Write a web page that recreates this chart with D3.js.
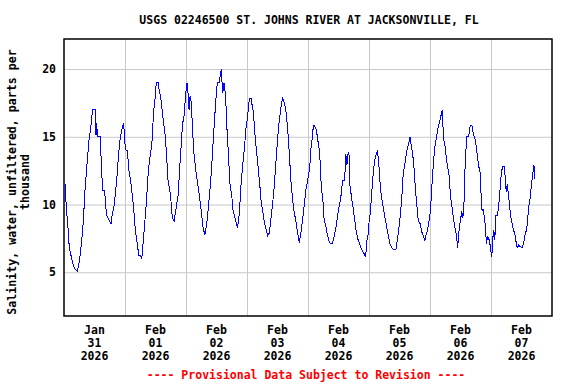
<!DOCTYPE html>
<html>
<head>
<meta charset="utf-8">
<script src="https://cdn.jsdelivr.net/npm/d3@7"></script>
<style>
  body { margin: 0; background: #fff; }
  text { font-family: "DejaVu Sans Mono", monospace; font-weight: bold; }
</style>
</head>
<body>
<div id="chart"></div>
<script>
// hours since 2026-01-31 00:00 and salinity (ppt)
var hours = [0.4,0.7,1.0,1.5,1.8,2.2,2.8,3.4,4.1,5.2,5.8,6.3,6.8,7.4,7.9,8.3,8.8,9.3,9.8,10.5,
  11.0,11.3,12.3,12.6,12.9,13.1,14.2,14.8,15.2,16.0,16.5,17.0,17.8,18.5,19.0,19.8,20.3,20.9,21.4,21.9,
  22.5,23.1,23.5,23.9,24.4,24.9,25.5,26.0,26.5,27.0,27.5,28.1,28.6,29.1,29.5,30.2,30.6,31.0,31.5,32.0,
  32.5,33.0,33.6,34.1,34.6,35.0,35.4,35.8,36.3,37.0,37.5,38.0,38.6,39.1,39.6,40.1,40.6,41.0,41.6,42.0,
  42.4,42.9,43.4,43.9,44.5,45.0,45.4,45.8,46.3,46.7,47.2,47.6,48.0,48.4,48.8,49.2,49.6,50.0,50.5,51.0,
  51.8,53.1,54.0,54.8,55.4,55.7,56.4,57.0,57.7,58.3,59.0,59.7,60.3,61.0,61.9,62.4,63.0,63.6,64.0,64.6,
  65.3,66.0,66.4,67.0,67.7,68.3,69.0,69.6,70.3,70.9,71.6,72.3,72.9,73.6,74.5,75.3,75.9,76.4,77.1,77.6,
  78.3,78.8,79.5,80.1,80.8,81.4,82.1,82.7,83.4,84.1,84.7,85.4,86.0,86.7,87.3,88.0,88.6,89.3,90.0,90.6,
  91.3,91.9,92.6,93.2,93.9,94.5,95.2,95.9,96.7,97.1,97.6,98.1,98.6,99.3,99.9,100.6,101.2,101.9,102.3,103.0,
  103.6,104.3,104.9,105.6,106.2,106.9,107.5,108.2,108.9,109.4,109.8,110.4,110.9,111.3,111.7,112.1,112.5,113.0,113.7,114.4,
  115.0,115.7,116.3,117.0,117.6,118.3,118.7,119.1,119.6,120.1,120.5,121.2,121.7,122.2,122.8,123.3,123.8,124.2,124.8,125.5,
  126.2,126.8,127.5,128.1,128.9,129.6,130.6,131.1,131.8,132.3,132.9,133.3,133.8,134.3,134.8,135.5,136.1,136.6,137.2,137.7,
  138.2,138.8,139.4,140.1,140.7,141.4,141.9,142.4,142.9,143.5,144.0,144.5,144.9,145.5,146.0,146.6,147.3,147.9,148.6,149.0,
  149.2,149.9,150.6,151.2,151.6,152.1,152.7,153.2,153.8,154.5,154.9,155.3,155.8,156.5,156.9,157.3,157.7,158.4,159.2,159.8,
  160.5,161.2,161.8,162.5,163.2,163.7,164.1,164.5,164.9,165.4,165.8,166.2,166.6,167.1,167.5,168.0,168.3,168.7,169.1,169.5,
  169.9,170.5,171.0,171.7,172.1,172.6,173.2,173.6,174.0,174.4,175.0,175.4,175.9,176.4,176.9,177.4,177.9,178.3,178.9,179.5,
  180.2,180.9,181.5,182.0,182.4,182.9,183.5,183.9,184.4,184.9,185.3];
var salinity = [11.5,10.5,9.5,8.55,7.45,6.7,6.2,5.7,5.3,5.05,5.5,6.2,7.0,8.2,9.8,11.2,12.4,13.5,14.7,15.6,
  16.6,17.0,17.0,15.1,16.0,15.0,15.0,12.6,11.0,11.0,9.7,9.1,8.8,8.6,9.3,10.0,11.0,12.2,13.5,14.6,
  15.3,15.8,16.0,14.6,14.0,14.0,12.6,12.0,11.3,10.5,9.5,8.0,7.4,6.7,6.2,6.2,6.0,6.9,8.0,9.2,
  10.4,12.0,13.2,13.8,14.6,16.0,17.1,17.8,19.0,19.0,18.4,18.0,17.0,16.1,15.5,14.4,12.8,11.6,11.1,10.5,
  9.4,8.9,8.8,9.5,10.2,10.8,12.4,13.5,15.0,16.0,16.5,17.5,18.4,19.0,18.2,17.0,18.0,17.6,15.9,14.0,
  12.6,10.9,9.5,8.2,7.8,8.0,9.0,10.2,11.7,13.4,15.6,17.6,19.0,19.0,20.0,18.2,19.0,18.0,16.0,14.0,
  11.5,10.7,9.7,9.2,8.7,8.3,9.4,11.3,12.9,14.0,15.6,16.6,17.8,17.8,16.8,14.8,13.7,12.7,11.3,10.1,
  9.4,8.7,8.2,7.7,7.9,8.9,10.1,11.3,13.2,15.0,16.2,17.2,17.9,17.5,16.9,15.6,13.9,11.7,10.3,9.4,
  8.7,7.9,7.2,7.9,8.9,9.9,11.1,11.8,12.8,14.0,14.8,15.8,15.8,15.5,14.7,13.8,11.4,10.2,9.0,8.4,
  7.8,7.3,7.1,7.1,7.6,8.2,9.0,9.8,10.5,11.4,11.8,11.8,13.7,12.9,13.7,13.9,11.4,10.7,9.8,8.8,
  8.0,7.4,7.1,6.7,6.5,6.3,6.1,7.3,7.7,8.9,9.3,11.2,12.4,13.2,13.7,13.9,13.2,11.9,10.7,9.9,
  9.1,8.5,7.8,7.2,6.8,6.7,6.7,7.3,8.3,9.2,10.5,11.9,12.7,13.2,13.9,14.4,15.0,14.4,13.7,12.7,
  11.3,10.0,8.8,8.6,8.0,7.7,7.3,7.7,8.0,8.6,9.3,10.5,11.9,13.4,14.4,15.0,15.8,16.2,16.8,17.0,
  15.0,14.3,13.2,12.5,12.0,10.5,9.8,9.0,8.3,7.6,6.8,7.9,8.6,9.5,9.0,9.6,12.3,15.0,15.0,15.8,
  15.8,15.1,14.8,13.8,12.8,12.4,10.7,9.5,9.7,9.0,8.4,7.1,7.6,7.5,7.2,6.5,6.1,7.5,8.1,7.4,
  9.2,9.2,9.8,11.4,12.4,12.8,12.8,12.0,10.9,11.5,10.5,9.7,9.0,8.5,8.1,7.8,7.2,6.8,7.0,6.9,
  6.8,7.2,7.9,8.1,8.9,9.9,10.6,11.5,12.2,12.9,11.9];

var yTicks = [5, 10, 15, 20];
var dayLabels = [["Jan","31","2026"],["Feb","01","2026"],["Feb","02","2026"],["Feb","03","2026"],
  ["Feb","04","2026"],["Feb","05","2026"],["Feb","06","2026"],["Feb","07","2026"]];

var title = "USGS 02246500 ST. JOHNS RIVER AT JACKSONVILLE, FL";
var yLabel = ["Salinity, water, unfiltered, parts per", "thousand"];
var footer = "---- Provisional Data Subject to Revision ----";

var W = 576, H = 384;
var pL = 64, pR = 552, pT = 39, pB = 316;

var t0 = Date.UTC(2026, 0, 31);
var HOUR = 3600 * 1000, DAY = 24 * HOUR;

var svg = d3.select("#chart").append("svg")
  .attr("width", W).attr("height", H);

var x = d3.scaleUtc()
  .domain([new Date(t0), new Date(t0 + 8 * DAY)])
  .range([pL, pR]);

var y = d3.scaleLinear()
  .domain([1.77, 22.22])
  .range([pB, pT]);

// vertical grid at midnights
var midnights = d3.range(1, 8).map(function(i) { return new Date(t0 + i * DAY); });
svg.append("g")
  .attr("transform", "translate(0," + pB + ")")
  .call(d3.axisBottom(x).tickValues(midnights).tickSize(-(pB - pT)).tickFormat(""))
  .call(function(g) {
    g.select(".domain").remove();
    g.selectAll("line").attr("stroke", "#c8c8c8").attr("stroke-width", 1);
  });

// horizontal grid + y labels
svg.append("g")
  .attr("transform", "translate(" + pL + ",0)")
  .call(d3.axisLeft(y).tickValues(yTicks).tickSize(-(pR - pL)).tickPadding(8))
  .call(function(g) {
    g.select(".domain").remove();
    g.selectAll("line").attr("stroke", "#c8c8c8").attr("stroke-width", 1);
    g.selectAll("text").attr("font-size", 11.5).attr("fill", "#000")
      .attr("font-family", "DejaVu Sans Mono").attr("font-weight", "bold");
  });

// data line (aliased, like the original plot)
var data = hours.map(function(h, i) { return {t: new Date(t0 + h * HOUR), v: salinity[i]}; });
svg.append("path")
  .datum(data)
  .attr("fill", "none")
  .attr("stroke", "#0000ff")
  .attr("stroke-width", 1)
  .attr("shape-rendering", "crispEdges")
  .attr("d", d3.line()
    .x(function(d) { return x(d.t); })
    .y(function(d) { return y(d.v); }));

// frame
svg.append("rect")
  .attr("x", pL).attr("y", pT)
  .attr("width", pR - pL).attr("height", pB - pT)
  .attr("fill", "none").attr("stroke", "#000").attr("stroke-width", 1.5);

// x labels at noon
var noons = d3.range(0, 8).map(function(i) { return new Date(t0 + i * DAY + 12 * HOUR); });
var xl = svg.append("g").selectAll("text")
  .data(noons)
  .enter().append("text")
    .attr("text-anchor", "middle")
    .attr("font-size", 11.5)
    .attr("x", function(d) { return x(d); })
    .attr("y", 334);
xl.each(function(d, i) {
  var el = d3.select(this);
  dayLabels[i].forEach(function(s, j) {
    el.append("tspan").attr("x", x(d)).attr("y", 334 + j * 13).text(s);
  });
});

// title
svg.append("text")
  .attr("x", 309).attr("y", 24)
  .attr("text-anchor", "middle")
  .attr("font-size", 11.5)
  .text(title);

// y axis title
yLabel.forEach(function(s, i) {
  svg.append("text")
    .attr("transform", "translate(" + (16 + i * 12.5) + ",182) rotate(-90)")
    .attr("text-anchor", "middle")
    .attr("font-size", 11.6)
    .text(s);
});

// footer
svg.append("text")
  .attr("x", 306).attr("y", 379)
  .attr("text-anchor", "middle")
  .attr("font-size", 11.5)
  .attr("fill", "#ff0000")
  .text(footer);
</script>
</body>
</html>
